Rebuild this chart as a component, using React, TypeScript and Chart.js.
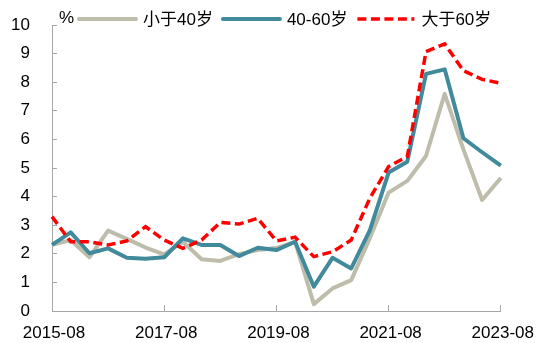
import React, { useEffect, useRef } from 'react';
import { Chart, registerables } from 'chart.js';

Chart.register(...registerables);

const FONT = "'Liberation Sans', Arial, 'Noto Sans CJK SC', sans-serif";

const categories = [
  '2015-08', '2015-12', '2016-04', '2016-08', '2016-12', '2017-04', '2017-08',
  '2017-12', '2018-04', '2018-08', '2018-12', '2019-04', '2019-08',
  '2019-12', '2020-04', '2020-08', '2020-12', '2021-04', '2021-08',
  '2021-12', '2022-04', '2022-08', '2022-12', '2023-04', '2023-08',
];
const tickLabels = ['2015-08', '2017-08', '2019-08', '2021-08', '2023-08'];
const seriesNames = ['小于40岁', '40-60岁', '大于60岁'];
const unitLabel = '%';

const under40 = [
  2.31, 2.48, 1.88, 2.81, 2.52, 2.22, 1.98, 2.42, 1.81, 1.75, 1.99, 2.13, 2.2,
  2.42, 0.24, 0.79, 1.08, 2.55, 4.14, 4.55, 5.42, 7.59, 5.65, 3.88, 4.65,
];
const age40to60 = [
  2.31, 2.75, 2.02, 2.19, 1.86, 1.83, 1.88, 2.54, 2.31, 2.31, 1.92, 2.21, 2.13,
  2.42, 0.85, 1.86, 1.49, 2.83, 4.84, 5.22, 8.29, 8.45, 6.04, 5.55, 5.08,
];
const over60 = [
  3.3, 2.42, 2.42, 2.31, 2.45, 2.95, 2.48, 2.19, 2.48, 3.1, 3.04, 3.24, 2.45,
  2.58, 1.9, 2.07, 2.48, 3.95, 5.05, 5.4, 9.07, 9.34, 8.4, 8.1, 7.96,
];

const AXIS_COLOR = '#A6A6A6';

const legendPlugin = {
  id: 'customLegend',
  afterDraw(chart: any) {
    const ctx = chart.ctx;
    ctx.save();
    ctx.font = `17px ${FONT}`;
    ctx.fillStyle = '#000';
    ctx.textBaseline = 'middle';
    ctx.textAlign = 'left';
    ctx.fillText(unitLabel, 59, 18);
    let x = 79;
    const y = 19;
    chart.data.datasets.forEach((ds: any) => {
      ctx.beginPath();
      ctx.strokeStyle = ds.borderColor;
      ctx.lineWidth = ds.borderWidth;
      const dash = ds.borderDash || [];
      ctx.setLineDash(dash);
      ctx.lineCap = dash.length ? 'butt' : 'round';
      ctx.moveTo(x, y);
      ctx.lineTo(x + 57, y);
      ctx.stroke();
      ctx.setLineDash([]);
      x += 57 + 7;
      ctx.fillText(ds.label, x, y + 1);
      x += ctx.measureText(ds.label).width + 10;
    });
    ctx.restore();
  },
};

export default function App() {
  const ref = useRef<HTMLCanvasElement | null>(null);

  useEffect(() => {
    if (!ref.current) return;
    const chart = new Chart(ref.current, {
      type: 'line',
      data: {
        labels: categories,
        datasets: [
          {
            label: seriesNames[0],
            data: under40,
            borderColor: '#BEBCAB',
            backgroundColor: '#BEBCAB',
            borderWidth: 4,
            pointRadius: 0,
            tension: 0,
            borderJoinStyle: 'round',
            order: 2,
          },
          {
            label: seriesNames[1],
            data: age40to60,
            borderColor: '#418A9B',
            backgroundColor: '#418A9B',
            borderWidth: 4,
            pointRadius: 0,
            tension: 0,
            borderJoinStyle: 'round',
            order: 1,
          },
          {
            label: seriesNames[2],
            data: over60,
            borderColor: '#FF0000',
            backgroundColor: '#FF0000',
            borderWidth: 3.5,
            borderDash: [9, 4.5],
            pointRadius: 0,
            tension: 0,
            order: 0,
          },
        ],
      },
      options: {
        responsive: false,
        animation: false,
        layout: { padding: { top: 25, right: 40, left: 0, bottom: 0 } },
        plugins: {
          legend: { display: false },
          tooltip: { enabled: false },
        },
        scales: {
          x: {
            type: 'category',
            offset: false,
            afterFit: (s: any) => { s.height = 32; },
            border: { display: true, color: AXIS_COLOR, width: 1 },
            grid: {
              drawOnChartArea: false,
              drawTicks: true,
              tickLength: -6,
              tickColor: (c: any) =>
                tickLabels.includes(categories[c.index]) ? AXIS_COLOR : 'rgba(0,0,0,0)',
            },
            ticks: {
              autoSkip: false,
              maxRotation: 0,
              minRotation: 0,
              padding: 18,
              labelOffset: 2,
              color: '#000',
              font: { family: FONT, size: 17 },
              callback: (_v: any, i: number) =>
                tickLabels.includes(categories[i]) ? categories[i] : '',
            },
          },
          y: {
            min: 0,
            max: 10,
            afterFit: (s: any) => {
              s.width = 52;
              s.paddingTop = 0;
              s.paddingBottom = 0;
            },
            border: { display: true, color: AXIS_COLOR, width: 1 },
            grid: {
              drawOnChartArea: false,
              drawTicks: true,
              tickLength: -5,
              tickColor: AXIS_COLOR,
            },
            ticks: {
              stepSize: 1,
              padding: 27,
              color: '#000',
              font: { family: FONT, size: 17 },
            },
          },
        },
      },
      plugins: [legendPlugin],
    });
    return () => chart.destroy();
  }, []);

  return (
    <div style={{ position: 'absolute', left: 0, top: 0, width: 550, height: 343 }}>
      <canvas ref={ref} width={550} height={343} />
    </div>
  );
}
